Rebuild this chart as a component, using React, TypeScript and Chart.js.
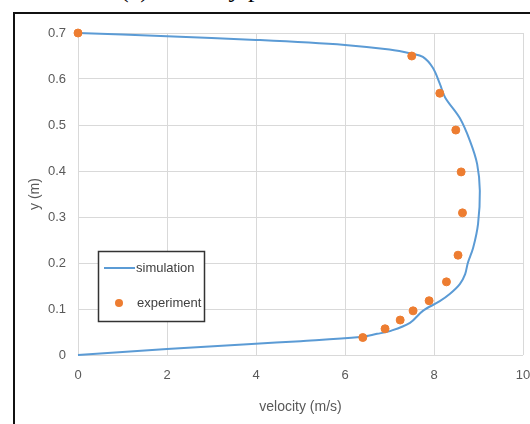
import React, { useEffect, useRef } from "react";
import { Chart, registerables } from "chart.js";

Chart.register(...registerables);

// Simulation profile (velocity m/s, y m)
const simVelocity = [
  0, 2, 4, 6, 7.0, 7.5, 7.75, 7.97, 8.13, 8.25, 8.58, 8.81, 8.97, 9.03, 8.99,
  8.88, 8.76, 8.7, 8.58, 8.36, 8.13, 7.75, 7.46, 7.01, 6.72, 6.34, 5.0, 3.9, 2.0, 0,
];
const simY = [
  0.7, 0.693, 0.685, 0.674, 0.664, 0.655, 0.648, 0.625, 0.59, 0.56, 0.515, 0.465,
  0.415, 0.357, 0.285, 0.233, 0.2, 0.176, 0.154, 0.133, 0.117, 0.096, 0.07,
  0.052, 0.046, 0.039, 0.03, 0.024, 0.013, 0,
];

// Experimental points
const expVelocity = [0, 7.5, 8.13, 8.49, 8.61, 8.64, 8.54, 8.28, 7.89, 7.53, 7.24, 6.9, 6.4];
const expY = [0.7, 0.65, 0.569, 0.489, 0.398, 0.309, 0.217, 0.159, 0.118, 0.096, 0.076, 0.057, 0.038];

const xTicks = ["0", "2", "4", "6", "8", "10"];
const yTicks = ["0", "0.1", "0.2", "0.3", "0.4", "0.5", "0.6", "0.7"];

const seriesNames = ["simulation", "experiment"];
const xTitle = "velocity (m/s)";
const yTitle = "y (m)";
const caption = "(c) Velocity profile";

const BLUE = "#5B9BD5";
const ORANGE = "#ED7D31";
const TEXT = "#595959";
const FONT = '"Liberation Sans", Arial, sans-serif';

export default function App() {
  const ref = useRef<HTMLCanvasElement | null>(null);

  useEffect(() => {
    if (!ref.current) return;

    const legendPlugin = {
      id: "boxLegend",
      afterDraw(chart: any) {
        const ctx = chart.ctx;
        ctx.save();
        // frame
        ctx.fillStyle = "#111";
        ctx.fillRect(13, 12, 517, 2);
        ctx.fillRect(13, 12, 2, 412);
        // legend box
        ctx.fillStyle = "#fff";
        ctx.fillRect(98, 251, 107, 71);
        ctx.strokeStyle = "#333";
        ctx.lineWidth = 1.5;
        ctx.strokeRect(98.5, 251.5, 106, 70);
        ctx.strokeStyle = BLUE;
        ctx.lineWidth = 2;
        ctx.beginPath();
        ctx.moveTo(104, 268);
        ctx.lineTo(135, 268);
        ctx.stroke();
        ctx.fillStyle = ORANGE;
        ctx.beginPath();
        ctx.arc(119, 303, 4, 0, Math.PI * 2);
        ctx.fill();
        ctx.fillStyle = "#404040";
        ctx.font = "13px " + FONT;
        ctx.textBaseline = "middle";
        ctx.textAlign = "left";
        ctx.fillText(seriesNames[0], 136, 268);
        ctx.fillText(seriesNames[1], 137, 303);
        ctx.restore();
      },
    };

    const chart = new Chart(ref.current, {
      type: "scatter",
      data: {
        datasets: [
          {
            label: seriesNames[0],
            data: simVelocity.map((x, i) => ({ x, y: simY[i] })),
            showLine: true,
            borderColor: BLUE,
            backgroundColor: BLUE,
            borderWidth: 2,
            pointRadius: 0,
            tension: 0.35,
            clip: false,
            order: 2,
          },
          {
            label: seriesNames[1],
            data: expVelocity.map((x, i) => ({ x, y: expY[i] })),
            showLine: false,
            backgroundColor: ORANGE,
            borderColor: ORANGE,
            pointRadius: 4,
            clip: false,
            order: 1,
          },
        ],
      },
      options: {
        responsive: false,
        animation: false,
        layout: { padding: { top: 33, right: 7, left: 0, bottom: 0 } },
        plugins: { legend: { display: false }, tooltip: { enabled: false } },
        scales: {
          x: {
            type: "linear",
            min: 0,
            max: 10,
            ticks: {
              stepSize: 2,
              padding: 13,
              color: TEXT,
              font: { family: FONT, size: 13 },
              callback: (v: any, i: number) => xTicks[i],
            },
            grid: { color: "#d9d9d9", drawTicks: false },
            border: { display: false },
            title: {
              display: true,
              text: xTitle,
              color: TEXT,
              font: { family: FONT, size: 14 },
              padding: { top: 0, bottom: 8 },
            },
            afterFit: (s: any) => {
              s.height = 69;
              s.paddingLeft = 0;
              s.paddingRight = 0;
            },
          },
          y: {
            type: "linear",
            min: 0,
            max: 0.7,
            ticks: {
              stepSize: 0.1,
              padding: 12,
              color: TEXT,
              font: { family: FONT, size: 13 },
              callback: (v: any, i: number) => yTicks[i],
            },
            grid: { color: "#d9d9d9", drawTicks: false },
            border: { display: false },
            title: {
              display: true,
              text: yTitle,
              color: TEXT,
              font: { family: FONT, size: 14 },
              padding: { top: 27, bottom: 0 },
            },
            afterFit: (s: any) => {
              s.width = 78;
              s.paddingTop = 0;
              s.paddingBottom = 0;
            },
          },
        },
      },
      plugins: [legendPlugin],
    });
    return () => chart.destroy();
  }, []);

  return (
    <div style={{ position: "absolute", left: 0, top: 0, width: 530, height: 424, overflow: "hidden", background: "#fff" }}>
      <div
        style={{
          position: "absolute",
          left: 120,
          top: -24.5,
          fontFamily: '"Liberation Serif", "Times New Roman", serif',
          fontSize: 26,
          lineHeight: "26px",
          color: "#000",
          whiteSpace: "nowrap",
        }}
      >
        {caption}
      </div>
      <canvas ref={ref} width={530} height={424} style={{ display: "block", position: "absolute", left: 0, top: 0 }} />
    </div>
  );
}
